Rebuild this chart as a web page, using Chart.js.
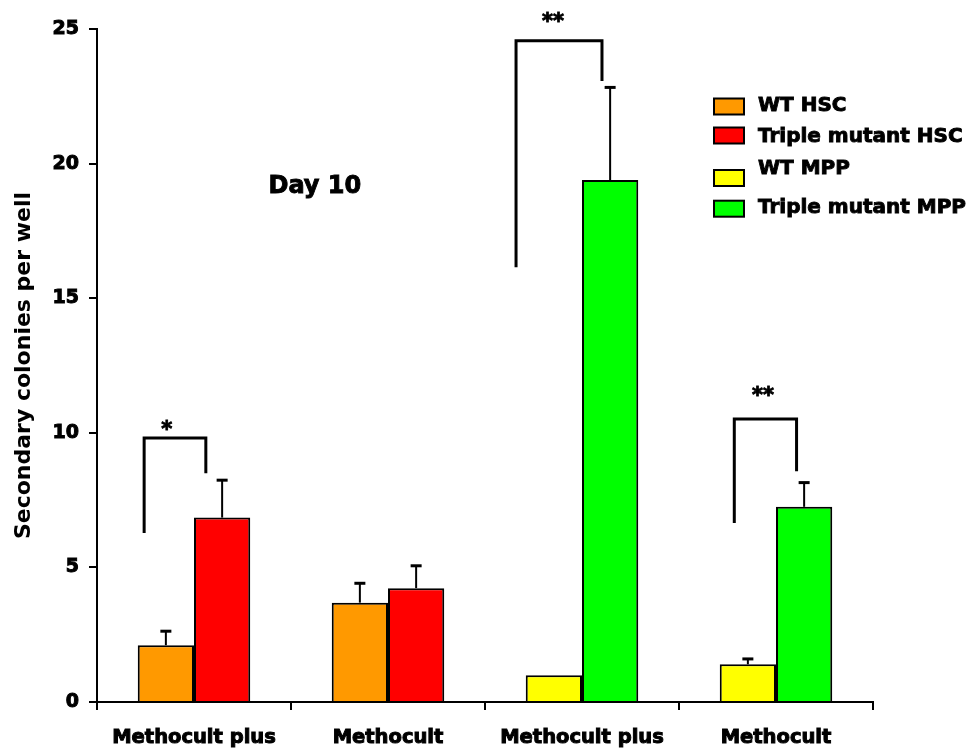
<!DOCTYPE html>
<html><head><meta charset="utf-8">
<script src="https://cdn.jsdelivr.net/npm/chart.js@4/dist/chart.umd.min.js"></script>
<style>html,body{margin:0;padding:0;background:#fff;} #wrap{width:969px;height:751px;}</style>
</head><body><div id="wrap"><canvas id="c" width="969" height="751"></canvas></div>
<script>
// ---- data ----
const categories = ["Methocult plus", "Methocult", "Methocult plus", "Methocult"];
const seriesNames = ["WT HSC", "Triple mutant HSC", "WT MPP", "Triple mutant MPP"];
const wtHsc      = [2.11, 3.69, null, null];
const wtHscErr   = [0.52, 0.72, null, null];
const mutHsc     = [6.85, 4.23, null, null];
const mutHscErr  = [1.39, 0.83, null, null];
const wtMpp      = [null, null, 0.99, 1.40];
const wtMppErr   = [null, null, 0, 0.20];
const mutMpp     = [null, null, 19.39, 7.25];
const mutMppErr  = [null, null, 3.44, 0.90];
const yTicks = [0, 5, 10, 15, 20, 25];
const yTitle = "Secondary colonies per well";
const noteText = "Day 10";
// significance brackets (category index, label, y of top bar, y of left leg end, y of right leg end)
const sigCats   = [0, 2, 3];
const sigLabels = ["*", "**", "**"];
const sigTop    = [9.81, 24.56, 10.51];
const sigLeftY  = [6.28, 16.15, 6.65];
const sigRightY = [8.50, 23.07, 8.57];

const FONT = "'DejaVu Sans', 'Liberation Sans', sans-serif";
const colors = ["#FF9900", "#FF0000", "#FFFF00", "#00FF00"];
const errs = [wtHscErr, mutHscErr, wtMppErr, mutMppErr];

const errorBarPlugin = {
  id: 'errorBars',
  afterDatasetsDraw(chart) {
    const ctx = chart.ctx, y = chart.scales.y;
    ctx.save();
    ctx.strokeStyle = '#000';
    chart.data.datasets.forEach((ds, di) => {
      const meta = chart.getDatasetMeta(di);
      meta.data.forEach((bar, i) => {
        const v = ds.data[i], e = errs[di][i];
        if (v == null || !e) return;
        const x = bar.x, y0 = y.getPixelForValue(v), y1 = y.getPixelForValue(v + e);
        ctx.lineWidth = 2;
        ctx.beginPath(); ctx.moveTo(x, y0); ctx.lineTo(x, y1); ctx.stroke();
        ctx.lineWidth = 3;
        ctx.beginPath(); ctx.moveTo(x - 5.5, y1); ctx.lineTo(x + 5.5, y1); ctx.stroke();
      });
    });
    ctx.restore();
  }
};

function heavyText(ctx, txt, x, yc) {
  const m = ctx.measureText(txt);
  const a = m.actualBoundingBoxAscent, d = m.actualBoundingBoxDescent;
  const yb = yc + (a - d) / 2;
  ctx.fillText(txt, x, yb);
  ctx.lineWidth = 0.9; ctx.strokeStyle = '#000';
  ctx.strokeText(txt, x, yb);
}

const annotPlugin = {
  id: 'annot',
  afterDraw(chart, args, opts) {
    const ctx = chart.ctx, xs = chart.scales.x, ys = chart.scales.y;
    const catW = xs.getPixelForValue(1) - xs.getPixelForValue(0);
    ctx.save();
    // brackets
    sigCats.forEach((c, k) => {
      const cx = xs.getPixelForValue(c);
      const xl = cx + opts.bracketX[k][0] * catW, xr = cx + opts.bracketX[k][1] * catW;
      ctx.strokeStyle = '#000'; ctx.lineWidth = 3; ctx.lineJoin = 'miter';
      ctx.beginPath();
      ctx.moveTo(xl, ys.getPixelForValue(sigLeftY[k]));
      ctx.lineTo(xl, ys.getPixelForValue(sigTop[k]));
      ctx.lineTo(xr, ys.getPixelForValue(sigTop[k]));
      ctx.lineTo(xr, ys.getPixelForValue(sigRightY[k]));
      ctx.stroke();
      ctx.fillStyle = '#000';
      ctx.font = "bold 21px " + FONT;
      ctx.textAlign = 'center';
      heavyText(ctx, sigLabels[k], cx + opts.starX[k] * catW, ys.getPixelForValue(sigTop[k]) - opts.starGap[k]);
    });
    // note
    ctx.fillStyle = '#000';
    ctx.font = "bold 24px " + FONT;
    ctx.textAlign = 'center';
    heavyText(ctx, noteText, xs.getPixelForValue(0) + 0.623 * catW, ys.getPixelForValue(19.16));
    // legend
    const rows = opts.legendRows;
    ctx.font = "bold 20px " + FONT;
    ctx.textAlign = 'left';
    chart.data.datasets.forEach((ds, i) => {
      const r = rows[i];
      ctx.fillStyle = ds.backgroundColor;
      ctx.fillRect(714, r.box - 8, 30, 16);
      ctx.lineWidth = 2; ctx.strokeStyle = '#000';
      ctx.strokeRect(714, r.box - 8, 30, 16);
      ctx.fillStyle = '#000';
      heavyText(ctx, ds.label, 758, r.text);
    });
    ctx.restore();
  }
};

const datasets = [wtHsc, mutHsc, wtMpp, mutMpp].map((d, i) => ({
  label: seriesNames[i],
  data: d,
  backgroundColor: colors[i],
  borderColor: '#000',
  borderWidth: 2,
  borderSkipped: 'bottom',
  skipNull: true,
  categoryPercentage: 0.58,
  barPercentage: 1.0
}));

new Chart(document.getElementById('c'), {
  type: 'bar',
  data: { labels: categories, datasets },
  plugins: [errorBarPlugin, annotPlugin],
  options: {
    responsive: false,
    devicePixelRatio: 1,
    animation: false,
    layout: { padding: { top: 29, right: 96, left: 0, bottom: 0 } },
    plugins: {
      legend: { display: false },
      tooltip: { enabled: false },
      annot: {
        bracketX: [[-0.257, 0.061], [-0.34, 0.103], [-0.215, 0.106]],
        starX: [-0.141, -0.149, -0.067],
        starGap: [12.5, 23.5, 28.5],
        legendRows: [{box: 106.5, text: 104}, {box: 135.5, text: 136.5}, {box: 178, text: 166.5}, {box: 208.7, text: 207.5}]
      }
    },
    datasets: { bar: { skipNull: true } },
    scales: {
      x: {
        grid: { offset: true, drawOnChartArea: false, drawTicks: true, tickLength: 8, color: '#000', lineWidth: 2 },
        border: { display: true, color: '#000', width: 2 },
        ticks: { color: '#000', textStrokeColor: '#000', textStrokeWidth: 1, font: { family: FONT, size: 19.5, weight: 'bold' }, padding: 16, maxRotation: 0 },
        afterFit(s) { s.height = 49; }
      },
      y: {
        min: 0, max: 25,
        afterBuildTicks(s) { s.ticks = yTicks.map(v => ({ value: v })); },
        grid: { drawOnChartArea: false, drawTicks: true, tickLength: 8, color: '#000', lineWidth: 2 },
        border: { display: true, color: '#000', width: 2 },
        ticks: { color: '#000', textStrokeColor: '#000', textStrokeWidth: 1, font: { family: FONT, size: 19, weight: 'bold' }, padding: 10 },
        title: { display: true, text: yTitle, color: '#000', font: { family: FONT, size: 22, weight: 'bold' }, padding: { top: 11, bottom: 0 } },
        afterFit(s) { s.width = 97; }
      }
    }
  }
});
</script></body></html>
